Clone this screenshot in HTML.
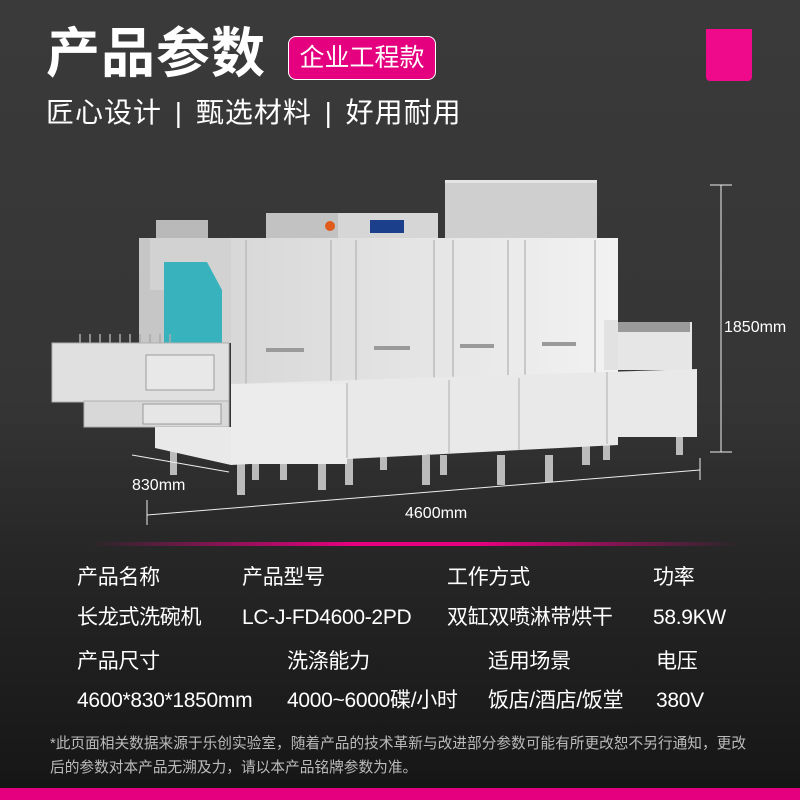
<!DOCTYPE html>
<html><head><meta charset="utf-8"><style>
html,body{margin:0;padding:0}
body{width:800px;height:800px;overflow:hidden;position:relative;background:linear-gradient(#3a3a3a 0,#353535 400px,#262626 560px,#161616 790px);font-family:"Liberation Sans","Noto Sans CJK SC",sans-serif;color:#fff}
.a{position:absolute;white-space:nowrap}
</style></head><body>
<div class="a" style="left:46px;top:22px;font-size:54px;font-weight:bold;line-height:64px;letter-spacing:1px">产品参数</div>
<div class="a" style="left:288px;top:36px;width:148px;height:44px;background:#e4007f;border:1px solid #fff;border-radius:8px;font-size:25px;line-height:42px;text-align:center;box-sizing:border-box">企业工程款</div>
<div class="a" style="left:706px;top:29px;width:46px;height:52px;background:#ee0a8a;border-radius:0 0 4px 4px"></div>
<div class="a" style="left:46px;top:95px;font-size:28px;line-height:36px;letter-spacing:1px">匠心设计 <span style="margin:0 4px">|</span> 甄选材料 <span style="margin:0 4px">|</span> 好用耐用</div>

<svg class="a" style="left:0;top:0" width="800" height="540" viewBox="0 0 800 540">
 <defs>
  <linearGradient id="g1" x1="0" x2="1"><stop offset="0" stop-color="#d8d8d8"/><stop offset="1" stop-color="#f2f2f2"/></linearGradient>
 </defs>
 <g fill="#bbb">
  <rect x="237" y="455" width="8" height="40"/><rect x="252" y="460" width="7" height="20"/><rect x="280" y="460" width="7" height="20"/><rect x="318" y="455" width="8" height="35"/><rect x="345" y="455" width="8" height="30"/><rect x="380" y="455" width="7" height="15"/><rect x="422" y="455" width="8" height="30"/><rect x="440" y="455" width="7" height="20"/><rect x="497" y="455" width="8" height="30"/><rect x="545" y="455" width="8" height="27"/><rect x="582" y="440" width="8" height="25"/><rect x="603" y="440" width="7" height="20"/><rect x="676" y="430" width="7" height="25"/><rect x="170" y="430" width="7" height="45"/><rect x="166" y="420" width="10" height="18"/>
 </g>
 <rect x="604" y="322" width="88" height="48" fill="#e6e6e6"/>
 <rect x="606" y="322" width="84" height="10" fill="#9a9a9a"/>
 <rect x="445" y="180" width="152" height="64" fill="#cfcfcf"/>
 <rect x="445" y="180" width="152" height="3" fill="#e4e4e4"/>
 <rect x="266" y="213" width="172" height="27" fill="#d6d6d6"/>
 <rect x="266" y="213" width="72" height="27" fill="#c2c2c2"/>
 <rect x="370" y="220" width="34" height="13" fill="#1c3f8c"/>
 <circle cx="330" cy="226" r="5" fill="#e05b1a"/>
 <rect x="156" y="220" width="52" height="20" fill="#b9b9b9"/>
 <path d="M139 238 L231 238 L231 343 L139 343 Z" fill="#d2d2d2"/>
 <path d="M164 262 L207 262 L222 290 L222 343 L164 343 Z" fill="#38b3bd"/>
 <path d="M139 238 L150 238 L150 290 L164 290 L164 343 L139 343Z" fill="#c6c6c6"/>
 <rect x="231" y="238" width="387" height="146" fill="url(#g1)"/>
 <g stroke="#bcbcbc" stroke-width="1.5" fill="none">
  <line x1="246" y1="240" x2="246" y2="384"/><line x1="331" y1="240" x2="331" y2="384"/><line x1="356" y1="240" x2="356" y2="384"/><line x1="434" y1="240" x2="434" y2="384"/><line x1="453" y1="240" x2="453" y2="384"/><line x1="508" y1="240" x2="508" y2="384"/><line x1="525" y1="240" x2="525" y2="384"/><line x1="595" y1="240" x2="595" y2="384"/>
 </g>
 <g fill="#9a9a9a"><rect x="266" y="348" width="38" height="4"/><rect x="374" y="346" width="36" height="4"/><rect x="460" y="344" width="34" height="4"/><rect x="542" y="342" width="34" height="4"/></g>
 <rect x="604" y="320" width="14" height="50" fill="#e2e2e2"/>
 <rect x="52" y="343" width="177" height="59" fill="#e0e0e0" stroke="#b0b0b0"/>
 <rect x="146" y="355" width="68" height="35" fill="#e8e8e8" stroke="#9c9c9c"/>
 <rect x="84" y="401" width="145" height="26" fill="#d8d8d8" stroke="#b0b0b0"/>
 <rect x="143" y="404" width="78" height="20" fill="#e6e6e6" stroke="#999"/>
 <g stroke="#aaa" stroke-width="1.5">
  <line x1="80" y1="343" x2="80" y2="334"/><line x1="90" y1="343" x2="90" y2="334"/><line x1="100" y1="343" x2="100" y2="334"/><line x1="110" y1="343" x2="110" y2="334"/><line x1="120" y1="343" x2="120" y2="334"/><line x1="130" y1="343" x2="130" y2="334"/><line x1="140" y1="343" x2="140" y2="334"/><line x1="150" y1="343" x2="150" y2="334"/><line x1="160" y1="343" x2="160" y2="334"/><line x1="170" y1="343" x2="170" y2="334"/>
 </g>
 <path d="M155 427 L231 427 L231 384 L697 369 L697 437 L618 437 L618 445 L231 465 L155 448Z" fill="#e9e9e9"/>
 <rect x="231" y="384" width="116" height="80" fill="#ececec"/>
 <g stroke="#c2c2c2" stroke-width="1.5"><line x1="347" y1="383" x2="347" y2="458"/><line x1="449" y1="380" x2="449" y2="453"/><line x1="519" y1="378" x2="519" y2="450"/><line x1="607" y1="372" x2="607" y2="444"/></g>
 <g stroke="#eee" stroke-width="1" fill="none">
  <line x1="721" y1="185" x2="721" y2="452"/><line x1="710" y1="185" x2="732" y2="185"/><line x1="710" y1="452" x2="732" y2="452"/>
  <line x1="147" y1="515" x2="700" y2="470"/><line x1="147" y1="500" x2="147" y2="525"/><line x1="700" y1="458" x2="700" y2="480"/>
  <line x1="132" y1="455" x2="229" y2="472"/>
 </g>
 <text x="724" y="332" fill="#fff" font-family="Liberation Sans" font-size="16">1850mm</text>
 <text x="132" y="490" fill="#fff" font-family="Liberation Sans" font-size="16">830mm</text>
 <text x="405" y="518" fill="#fff" font-family="Liberation Sans" font-size="16">4600mm</text>
</svg>

<div class="a" style="left:90px;top:542px;width:650px;height:4px;background:linear-gradient(90deg,rgba(228,0,127,0),#e4007f 40%,#e4007f 60%,rgba(228,0,127,0))"></div>

<div style="font-size:21px;line-height:24px;letter-spacing:-0.3px">
<div class="a" style="left:77px;top:566px">产品名称</div>
<div class="a" style="left:242px;top:566px">产品型号</div>
<div class="a" style="left:447px;top:566px">工作方式</div>
<div class="a" style="left:653px;top:566px">功率</div>
<div class="a" style="left:77px;top:606px">长龙式洗碗机</div>
<div class="a" style="left:242px;top:606px">LC-J-FD4600-2PD</div>
<div class="a" style="left:447px;top:606px">双缸双喷淋带烘干</div>
<div class="a" style="left:653px;top:606px">58.9KW</div>
<div class="a" style="left:77px;top:650px">产品尺寸</div>
<div class="a" style="left:287px;top:650px">洗涤能力</div>
<div class="a" style="left:488px;top:650px">适用场景</div>
<div class="a" style="left:656px;top:650px">电压</div>
<div class="a" style="left:77px;top:689px">4600*830*1850mm</div>
<div class="a" style="left:287px;top:689px">4000~6000碟/小时</div>
<div class="a" style="left:488px;top:689px">饭店/酒店/饭堂</div>
<div class="a" style="left:656px;top:689px">380V</div>
</div>
<div class="a" style="left:50px;top:732px;font-size:14.7px;line-height:24px;color:#bbb">*此页面相关数据来源于乐创实验室，随着产品的技术革新与改进部分参数可能有所更改恕不另行通知，更改<br>后的参数对本产品无溯及力，请以本产品铭牌参数为准。</div>
<div class="a" style="left:0;top:788px;width:800px;height:12px;background:#e4007f"></div>
</body></html>
